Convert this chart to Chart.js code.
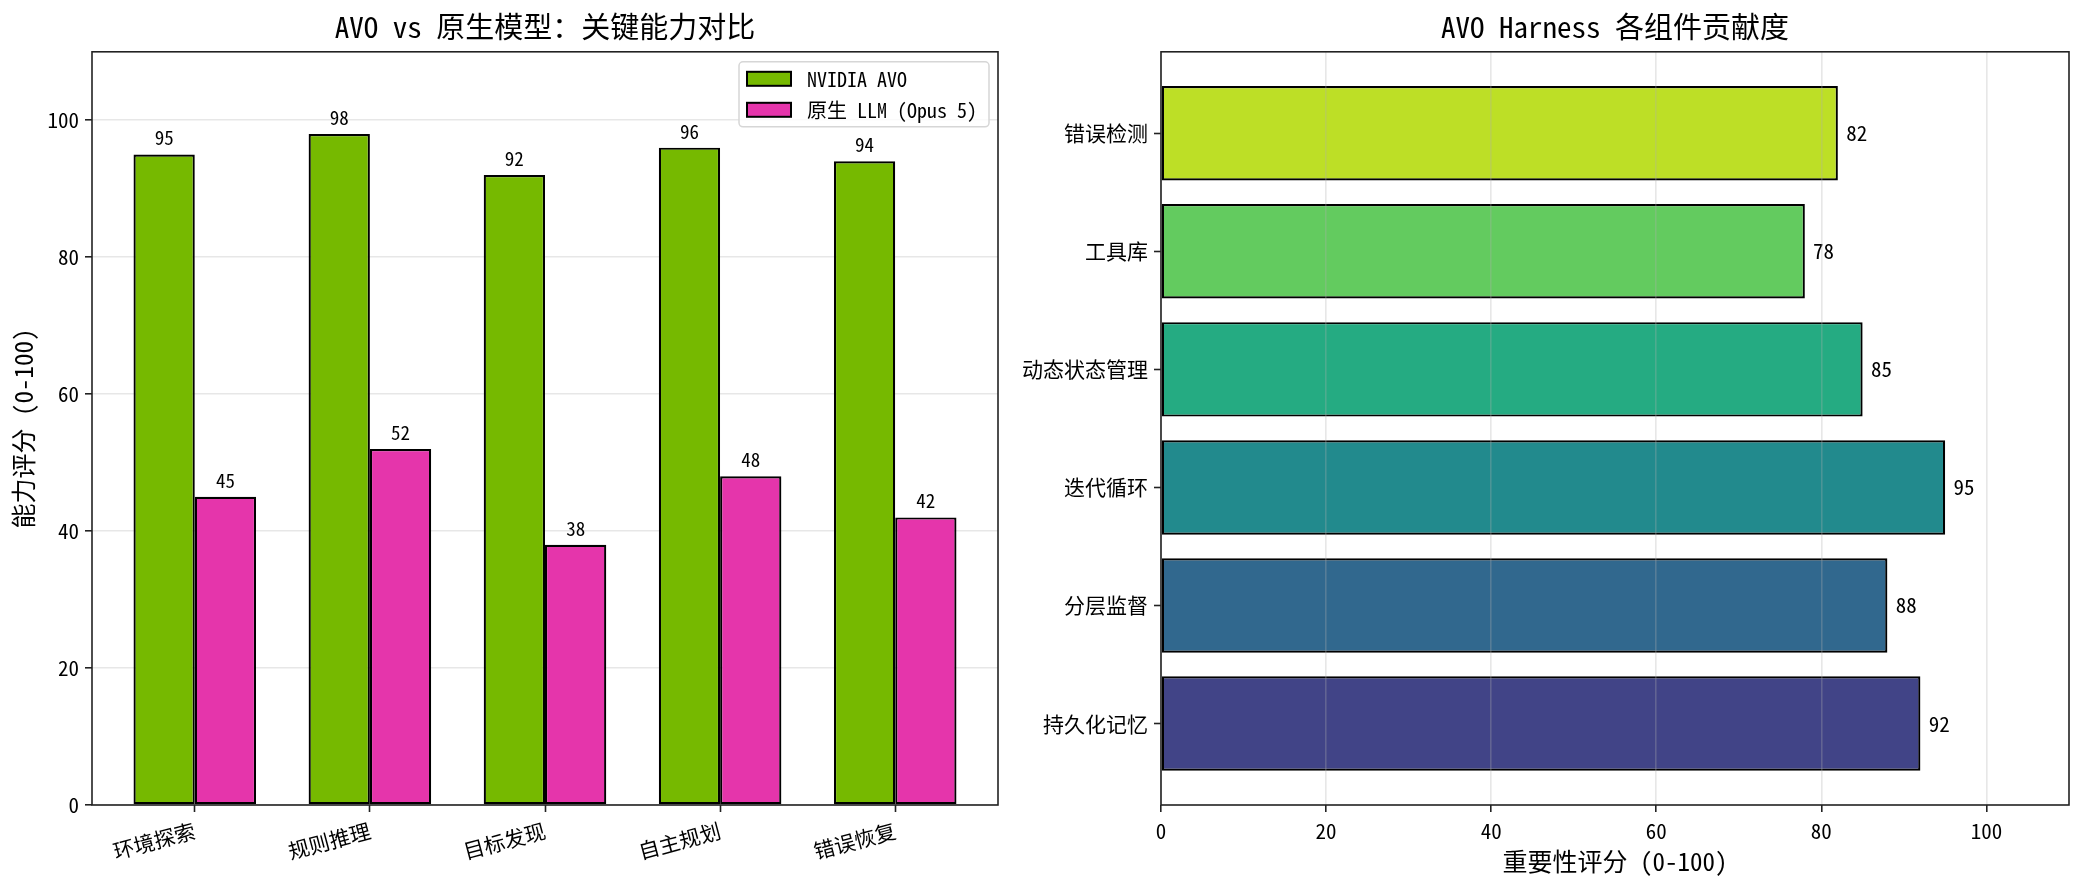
<!DOCTYPE html>
<html lang="zh-CN">
<head>
    <meta charset="UTF-8">
    <title>AVO vs 原生模型</title>
    <script src="https://cdn.jsdelivr.net/npm/chart.js"></script>
    <style>
        html, body {
            margin: 0;
            padding: 0;
            background: #fff;
        }
        body {
            width: 2083px;
            height: 884px;
            position: relative;
            overflow: hidden;
        }
        #leftChart {
            position: absolute;
            left: 0;
            top: 0;
        }
        #rightChart {
            position: absolute;
            left: 1010px;
            top: 0;
        }
    </style>
</head>
<body>
    <canvas id="leftChart" width="1010" height="884"></canvas>
    <canvas id="rightChart" width="1073" height="884"></canvas>

    <script>
        // Left chart data
        const abilityLabels = ['环境探索', '规则推理', '目标发现', '自主规划', '错误恢复'];
        const avoScores = [95, 98, 92, 96, 94];
        const llmScores = [45, 52, 38, 48, 42];
        const scoreTicks = [0, 20, 40, 60, 80, 100];

        // Right chart data (bottom to top)
        const componentLabels = ['持久化记忆', '分层监督', '迭代循环', '动态状态管理', '工具库', '错误检测'];
        const componentScores = [92, 88, 95, 85, 78, 82];
        const componentColors = ['#414487', '#31688e', '#228a8d', '#25ab82', '#63cb5f', '#bddf26'];

        const FONT = "'Noto Sans Mono CJK SC', 'Noto Sans CJK SC', sans-serif";
        const SPINE = '#222';
        const GRID = 'rgba(176,176,176,0.3)';

        Chart.defaults.font.family = FONT;
        Chart.defaults.color = '#000';

        // Draw the four spines around the plot area
        const framePlugin = {
            id: 'frame',
            afterDraw(chart) {
                const { ctx, chartArea: a } = chart;
                ctx.save();
                ctx.strokeStyle = SPINE;
                ctx.lineWidth = 1.6;
                ctx.strokeRect(a.left, a.top, a.right - a.left, a.bottom - a.top);
                ctx.restore();
            }
        };

        // Value labels above the vertical bars
        const topLabels = {
            id: 'topLabels',
            afterDatasetsDraw(chart) {
                const ctx = chart.ctx;
                const yScale = chart.scales.y;
                ctx.save();
                ctx.font = '19px ' + FONT;
                ctx.fillStyle = '#000';
                ctx.textAlign = 'center';
                ctx.textBaseline = 'bottom';
                chart.data.datasets.forEach((ds, di) => {
                    chart.getDatasetMeta(di).data.forEach((bar, i) => {
                        const v = ds.data[i].y;
                        ctx.fillText(String(v), bar.x, yScale.getPixelForValue(v + 1));
                    });
                });
                ctx.restore();
            }
        };

        // Value labels to the right of horizontal bars
        const sideLabels = {
            id: 'sideLabels',
            afterDatasetsDraw(chart) {
                const ctx = chart.ctx;
                const xScale = chart.scales.x;
                ctx.save();
                ctx.font = '21px ' + FONT;
                ctx.fillStyle = '#000';
                ctx.textAlign = 'left';
                ctx.textBaseline = 'middle';
                chart.data.datasets.forEach((ds, di) => {
                    chart.getDatasetMeta(di).data.forEach((bar, i) => {
                        const v = ds.data[i].x;
                        ctx.fillText(String(v), xScale.getPixelForValue(v + 1), bar.y);
                    });
                });
                ctx.restore();
            }
        };

        // Legend box in the upper right corner of the plot area
        const boxLegend = {
            id: 'boxLegend',
            afterDraw(chart) {
                const { ctx, chartArea: a } = chart;
                const sets = chart.data.datasets;
                ctx.save();
                ctx.font = '20px ' + FONT;
                let textW = 0;
                sets.forEach(ds => { textW = Math.max(textW, ctx.measureText(ds.label).width); });
                const w = 68 + textW + 12;
                const h = 65;
                const x = a.right - 9 - w;
                const y = a.top + 10;
                ctx.beginPath();
                ctx.roundRect(x, y, w, h, 4);
                ctx.fillStyle = 'rgba(255,255,255,0.8)';
                ctx.fill();
                ctx.strokeStyle = '#d6d6d6';
                ctx.lineWidth = 1.5;
                ctx.stroke();
                sets.forEach((ds, i) => {
                    const cy = y + 17 + i * 31;
                    ctx.fillStyle = ds.backgroundColor;
                    ctx.fillRect(x + 8, cy - 7, 44, 14);
                    ctx.strokeStyle = '#000';
                    ctx.lineWidth = 2;
                    ctx.strokeRect(x + 8, cy - 7, 44, 14);
                    ctx.fillStyle = '#000';
                    ctx.textAlign = 'left';
                    ctx.textBaseline = 'middle';
                    ctx.fillText(ds.label, x + 68, cy + 1);
                });
                ctx.restore();
            }
        };

        new Chart(document.getElementById('leftChart'), {
            type: 'bar',
            data: {
                datasets: [
                    {
                        label: 'NVIDIA AVO',
                        data: avoScores.map((v, i) => ({ x: i, y: v })),
                        backgroundColor: '#76b900',
                        borderColor: '#000',
                        borderWidth: 2.2,
                        borderSkipped: false
                    },
                    {
                        label: '原生 LLM (Opus 5)',
                        data: llmScores.map((v, i) => ({ x: i, y: v })),
                        backgroundColor: '#e535ab',
                        borderColor: '#000',
                        borderWidth: 2.2,
                        borderSkipped: false
                    }
                ]
            },
            options: {
                responsive: false,
                animation: false,
                devicePixelRatio: 1,
                categoryPercentage: 0.7,
                barPercentage: 1.0,
                layout: { padding: { left: 0, right: 12, top: 0, bottom: 0 } },
                plugins: {
                    legend: { display: false },
                    tooltip: { enabled: false },
                    title: {
                        display: true,
                        fullSize: false,
                        text: 'AVO vs 原生模型：关键能力对比',
                        font: { size: 29, weight: 'normal' },
                        color: '#000',
                        padding: { top: 10, bottom: 7 }
                    }
                },
                scales: {
                    x: {
                        type: 'linear',
                        min: -0.587,
                        max: 4.587,
                        offset: false,
                        afterBuildTicks: s => { s.ticks = abilityLabels.map((_, i) => ({ value: i })); },
                        afterFit: s => { s.height = 79; },
                        ticks: {
                            callback: v => abilityLabels[v],
                            font: { size: 21 },
                            color: '#000',
                            minRotation: 15,
                            maxRotation: 15,
                            autoSkip: false,
                            padding: 6
                        },
                        grid: { offset: false, drawOnChartArea: false, tickColor: SPINE, tickLength: 7, tickWidth: 1.6 },
                        border: { display: false }
                    },
                    y: {
                        min: 0,
                        max: 110,
                        afterBuildTicks: s => { s.ticks = scoreTicks.map(v => ({ value: v })); },
                        afterFit: s => { s.width = 92; },
                        ticks: { font: { size: 21 }, color: '#000', padding: 6 },
                        grid: { color: GRID, lineWidth: 1.6, tickColor: SPINE, tickLength: 7, tickWidth: 1.6 },
                        border: { display: false },
                        title: {
                            display: true,
                            text: '能力评分 (0-100)',
                            font: { size: 25 },
                            color: '#000',
                            padding: { top: 8, bottom: 0 }
                        }
                    }
                }
            },
            plugins: [topLabels, framePlugin, boxLegend]
        });

        new Chart(document.getElementById('rightChart'), {
            type: 'bar',
            data: {
                datasets: [{
                    label: '重要性评分',
                    data: componentScores.map((v, i) => ({ x: v, y: i })),
                    backgroundColor: componentColors,
                    borderColor: '#000',
                    borderWidth: 2.2,
                    borderSkipped: false
                }]
            },
            options: {
                indexAxis: 'y',
                responsive: false,
                animation: false,
                devicePixelRatio: 1,
                categoryPercentage: 1.0,
                barPercentage: 0.8,
                layout: { padding: { left: 0, right: 14, top: 0, bottom: 0 } },
                plugins: {
                    legend: { display: false },
                    tooltip: { enabled: false },
                    title: {
                        display: true,
                        fullSize: false,
                        text: 'AVO Harness 各组件贡献度',
                        font: { size: 29, weight: 'normal' },
                        color: '#000',
                        padding: { top: 10, bottom: 7 }
                    }
                },
                scales: {
                    x: {
                        min: 0,
                        max: 110,
                        afterBuildTicks: s => { s.ticks = scoreTicks.map(v => ({ value: v })); },
                        afterFit: s => { s.height = 79; },
                        ticks: { font: { size: 21 }, color: '#000', padding: 6, maxRotation: 0 },
                        grid: { color: GRID, lineWidth: 1.6, z: 1, tickColor: SPINE, tickLength: 7, tickWidth: 1.6 },
                        border: { display: false },
                        title: {
                            display: true,
                            text: '重要性评分 (0-100)',
                            font: { size: 25 },
                            color: '#000',
                            padding: { top: 0, bottom: 8 }
                        }
                    },
                    y: {
                        type: 'linear',
                        min: -0.69,
                        max: 5.69,
                        offset: false,
                        afterBuildTicks: s => { s.ticks = componentLabels.map((_, i) => ({ value: i })); },
                        afterFit: s => { s.width = 151; },
                        ticks: {
                            callback: v => componentLabels[v],
                            font: { size: 21 },
                            color: '#000',
                            padding: 6,
                            autoSkip: false
                        },
                        grid: { offset: false, drawOnChartArea: false, tickColor: SPINE, tickLength: 7, tickWidth: 1.6 },
                        border: { display: false }
                    }
                }
            },
            plugins: [sideLabels, framePlugin]
        });
    </script>
</body>
</html>
